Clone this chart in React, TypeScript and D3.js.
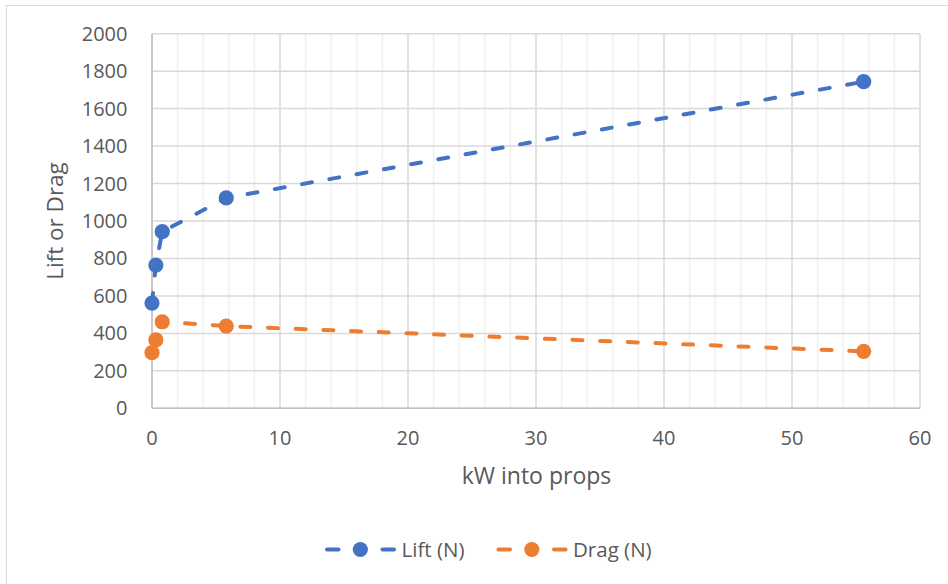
import React from "react";
import * as d3 from "d3";

const kW = [0, 0.3, 0.8, 5.8, 55.6];
const lift = [562, 765, 943, 1123, 1744];
const drag = [297, 365, 462, 439, 304];
const xTicks = [0, 10, 20, 30, 40, 50, 60];
const yTicks = [0, 200, 400, 600, 800, 1000, 1200, 1400, 1600, 1800, 2000];
const seriesNames = ["Lift (N)", "Drag (N)"];
const colors = ["#4472C4", "#ED7D31"];

const W = 948;
const H = 584;
const FONT = "'Open Sans', sans-serif";

export default function App() {
  const x = d3.scaleLinear().domain([0, 60]).range([152, 920]);
  const y = d3.scaleLinear().domain([0, 2000]).range([408.3, 33.7]);
  const minorX = d3.range(0, 61, 2).filter((v) => v % 10 !== 0);
  const series = [lift, drag];
  const line = d3
    .line<number>()
    .x((_, i) => x(kW[i]))
    .y((d) => y(d))
    .curve(d3.curveLinear);

  const legendItems = [
    { start: 325, text: 401.5 },
    { start: 496.5, text: 573 },
  ];

  return (
    <svg
      width={W}
      height={H}
      style={{ position: "absolute", left: 0, top: 0, background: "#fff" }}
      fontFamily={FONT}
    >
      <rect x={6.5} y={5.5} width={1000} height={1000} fill="#fff" stroke="#d9d9d9" strokeWidth={1} />
      {minorX.map((v) => (
        <line key={"mx" + v} x1={x(v)} x2={x(v)} y1={y(0)} y2={y(2000)} stroke="#f0f0f0" strokeWidth={1.5} />
      ))}
      {xTicks.map((v) => (
        <line key={"gx" + v} x1={x(v)} x2={x(v)} y1={y(0)} y2={y(2000)} stroke="#d9d9d9" strokeWidth={1.5} />
      ))}
      {yTicks.map((v) => (
        <line key={"gy" + v} x1={x(0)} x2={x(60)} y1={y(v)} y2={y(v)} stroke="#d9d9d9" strokeWidth={1.5} />
      ))}
      <line x1={x(0)} x2={x(0)} y1={y(0)} y2={y(2000)} stroke="#bfbfbf" strokeWidth={1.5} />
      <line x1={x(0)} x2={x(60)} y1={y(0)} y2={y(0)} stroke="#bfbfbf" strokeWidth={1.5} />
      {yTicks.map((v) => (
        <text key={"ty" + v} x={127.5} y={y(v)} dy="0.35em" textAnchor="end" fontSize={20} fill="#595959">
          {v}
        </text>
      ))}
      {xTicks.map((v) => (
        <text key={"tx" + v} x={x(v)} y={438} dy="0.35em" textAnchor="middle" fontSize={20} fill="#595959">
          {v}
        </text>
      ))}
      <text x={536.5} y={484} textAnchor="middle" fontSize={23} fill="#595959">
        kW into props
      </text>
      <text
        transform={`translate(63,221) rotate(-90)`}
        textAnchor="middle"
        fontSize={22.5}
        fill="#595959"
      >
        Lift or Drag
      </text>
      {series.map((s, si) => (
        <g key={"s" + si}>
          <path
            d={line(s) || ""}
            fill="none"
            stroke={colors[si]}
            strokeWidth={4}
            strokeDasharray="10,17.7"
            strokeLinecap="round"
          />
          {s.map((v, i) => (
            <circle key={i} cx={x(kW[i])} cy={y(v)} r={7.6} fill={colors[si]} />
          ))}
        </g>
      ))}
      {legendItems.map((it, i) => (
        <g key={"lg" + i}>
          <line x1={it.start + 2} x2={it.start + 13.5} y1={549.5} y2={549.5} stroke={colors[i]} strokeWidth={4} strokeLinecap="round" />
          <line x1={it.start + 57.5} x2={it.start + 69} y1={549.5} y2={549.5} stroke={colors[i]} strokeWidth={4} strokeLinecap="round" />
          <circle cx={it.start + 35.3} cy={549.5} r={7.6} fill={colors[i]} />
          <text x={it.text} y={549.5} dy="0.35em" fontSize={20.5} fill="#595959">
            {seriesNames[i]}
          </text>
        </g>
      ))}
    </svg>
  );
}
